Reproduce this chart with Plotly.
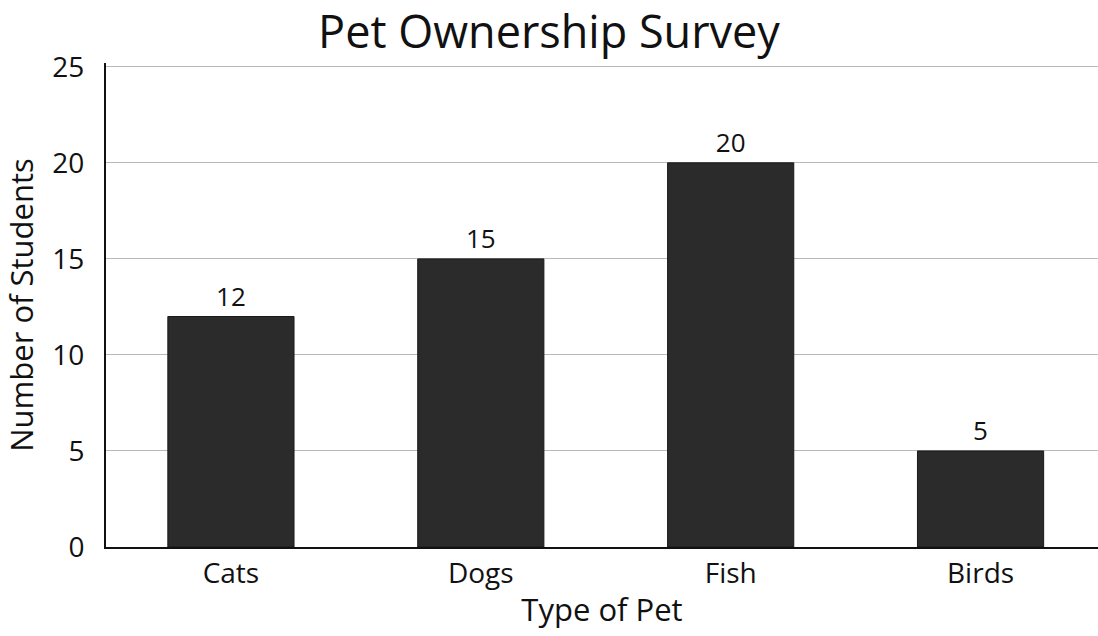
import plotly.graph_objects as go

# Survey results
pets = ["Cats", "Dogs", "Fish", "Birds"]
students = [12, 15, 20, 5]
y_ticks = [0, 5, 10, 15, 20, 25]

fig = go.Figure(
    go.Bar(
        x=pets,
        y=students,
        width=0.505,
        marker=dict(color="#2b2b2b", line=dict(color="#1a1a1a", width=1)),
        text=[str(v) for v in students],
        textposition="outside",
        textfont=dict(family="Open Sans", size=26, color="#111111"),
        cliponaxis=False,
    )
)

fig.update_layout(
    width=1098,
    height=636,
    margin=dict(l=106, r=0, t=63, b=89),
    paper_bgcolor="white",
    plot_bgcolor="white",
    font=dict(family="Open Sans", color="#111111"),
    title=dict(
        text="Pet Ownership Survey",
        x=0.5,
        xanchor="center",
        y=0.949,
        yanchor="middle",
        font=dict(family="Open Sans", size=45, color="#111111"),
    ),
    showlegend=False,
    bargap=0.5,
)

fig.update_xaxes(
    range=[-0.5, 3.47],
    showline=True,
    linecolor="#111111",
    linewidth=2,
    showgrid=False,
    ticks="",
    tickfont=dict(size=28, color="#111111"),
    title=dict(text="Type of Pet", font=dict(size=31, color="#111111"), standoff=10),
)

fig.update_yaxes(
    range=[0, 25.2],
    tickvals=y_ticks,
    showline=True,
    linecolor="#111111",
    linewidth=2,
    showgrid=True,
    gridcolor="#b8b8b8",
    gridwidth=1,
    zeroline=False,
    ticks="",
    tickfont=dict(size=28, color="#111111"),
    ticklabelstandoff=14,
    title=dict(text="Number of Students", font=dict(size=31, color="#111111"), standoff=10),
)

fig.write_html("out.html")
